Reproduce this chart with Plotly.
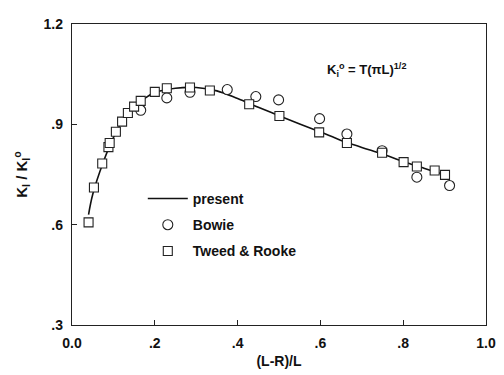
import plotly.graph_objects as go

# "present" curve
present_x = [0.04, 0.05, 0.075, 0.1, 0.125, 0.15, 0.175, 0.2, 0.25, 0.3, 0.35, 0.4,
             0.45, 0.5, 0.55, 0.6, 0.65, 0.7, 0.75, 0.8, 0.85, 0.9]
present_y = [0.63, 0.69, 0.785, 0.86, 0.915, 0.952, 0.977, 0.995, 1.008, 1.01, 1.0, 0.977,
             0.951, 0.926, 0.901, 0.877, 0.852, 0.831, 0.811, 0.789, 0.769, 0.75]

# Bowie (circles)
bowie_x = [0.166, 0.229, 0.285, 0.375, 0.444, 0.499, 0.598, 0.664, 0.749, 0.833, 0.912]
bowie_y = [0.942, 0.979, 0.996, 1.004, 0.983, 0.973, 0.917, 0.871, 0.821, 0.742, 0.717]

# Tweed & Rooke (squares)
tweed_x = [0.040, 0.053, 0.073, 0.088, 0.091, 0.106, 0.121, 0.135, 0.150, 0.166, 0.200,
           0.229, 0.285, 0.333, 0.428, 0.501, 0.597, 0.664, 0.749, 0.801, 0.833, 0.876, 0.901]
tweed_y = [0.607, 0.711, 0.783, 0.832, 0.844, 0.878, 0.908, 0.934, 0.953, 0.970, 0.997,
           1.008, 1.010, 1.001, 0.960, 0.925, 0.876, 0.844, 0.815, 0.787, 0.774, 0.762, 0.749]

x_ticks = [0.0, 0.2, 0.4, 0.6, 0.8, 1.0]
x_ticktext = ["0.0", ".2", ".4", ".6", ".8", "1.0"]
y_ticks = [0.3, 0.6, 0.9, 1.2]
y_ticktext = [".3", ".6", ".9", "1.2"]

FONT = "Liberation Sans, Arial, sans-serif"
INK = "#111"

fig = go.Figure()
fig.add_trace(go.Scatter(x=present_x, y=present_y, mode="lines", name="present",
                         line=dict(color=INK, width=1.6), line_shape="spline",
                         legendgroup="a"))
fig.add_trace(go.Scatter(x=bowie_x, y=bowie_y, mode="markers", name="Bowie",
                         marker=dict(symbol="circle", size=10, color="white",
                                     line=dict(color="#222", width=1.1)),
                         legendgroup="b"))
fig.add_trace(go.Scatter(x=tweed_x, y=tweed_y, mode="markers", name="Tweed &amp; Rooke",
                         marker=dict(symbol="square", size=9, color="white",
                                     line=dict(color="#222", width=1.1)),
                         legendgroup="c"))

axis_common = dict(showgrid=False, zeroline=False, showline=True, linecolor="#222",
                   linewidth=1.3, mirror=True, ticks="inside", ticklen=5, tickwidth=1,
                   tickcolor="#222", automargin=True,
                   tickfont=dict(family=FONT, size=14, color=INK, weight="bold"))

fig.update_xaxes(range=[0, 1.0], tickvals=x_ticks, ticktext=x_ticktext,
                 ticklabelstandoff=5,
                 title=dict(text="(L-R)/L",
                            font=dict(family=FONT, size=14, color=INK, weight="bold"),
                            standoff=6),
                 **axis_common)
fig.update_yaxes(range=[0.3, 1.2], tickvals=y_ticks, ticktext=y_ticktext,
                 ticklabelstandoff=5,
                 title=dict(text="K<sub>I</sub> / K<sub>I</sub><sup>o</sup>",
                            font=dict(family=FONT, size=15, color=INK, weight="bold"),
                            standoff=12),
                 **axis_common)

fig.add_annotation(x=0.712, y=1.062, xref="x", yref="y", showarrow=False,
                   text="K<sub>i</sub><sup>o</sup> = T(πL)<sup>1/2</sup>",
                   font=dict(family=FONT, size=13, color=INK, weight="bold"))

# page body has an 8px margin; compensate so the plot area lands at 72..492 x 16..326
fig.update_layout(
    width=496, height=367,
    margin=dict(l=64, r=12, t=8, b=49),
    paper_bgcolor="white", plot_bgcolor="white",
    font=dict(family=FONT, size=12, color=INK),
    showlegend=True,
    legend=dict(x=0.171, y=0.472, xanchor="left", yanchor="top",
                bgcolor="rgba(0,0,0,0)", itemwidth=40, tracegroupgap=5,
                traceorder="grouped",
                font=dict(family=FONT, size=14, color=INK, weight="bold")),
)

fig.write_html("out.html")
